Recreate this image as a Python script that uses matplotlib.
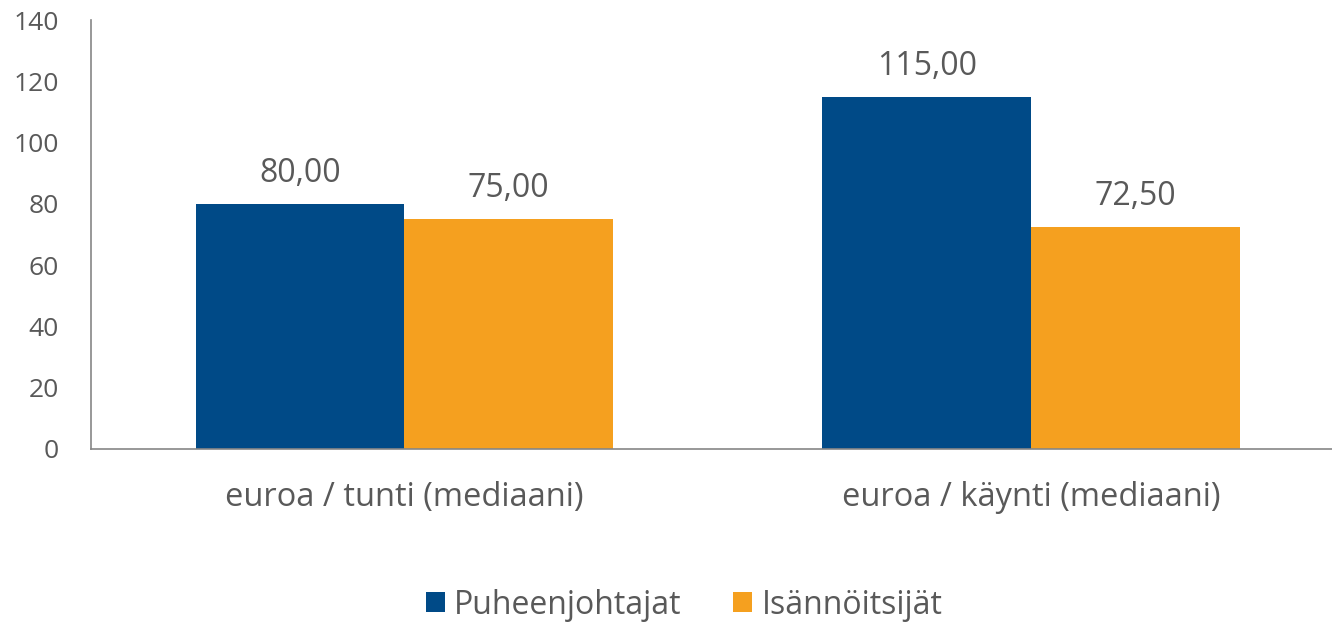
import matplotlib
matplotlib.use("Agg")
import matplotlib.pyplot as plt
import numpy as np

# data
categories = ["euroa / tunti (mediaani)", "euroa / käynti (mediaani)"]
series_names = ["Puheenjohtajat", "Isännöitsijät"]
puheenjohtajat = [80.00, 115.00]
isannoitsijat = [75.00, 72.50]
y_ticks = [0, 20, 40, 60, 80, 100, 120, 140]

colors = ["#004A87", "#F5A01F"]
text_color = "#595959"

plt.rcParams["font.family"] = ["Open Sans", "DejaVu Sans"]

fig = plt.figure(figsize=(13.32, 6.24), dpi=100)
ax = fig.add_axes([91 / 1332, 175 / 624, 1241 / 1332, 429 / 624])

x = np.arange(len(categories))
w = 0.333
b1 = ax.bar(x - w / 2, puheenjohtajat, w, color=colors[0], label=series_names[0])
b2 = ax.bar(x + w / 2, isannoitsijat, w, color=colors[1], label=series_names[1])

# value labels above bars, finnish decimal comma
for bars in (b1, b2):
    for rect in bars:
        val = rect.get_height()
        ax.annotate(f"{val:.2f}".replace(".", ","),
                    (rect.get_x() + rect.get_width() / 2, val),
                    xytext=(0, 10), textcoords="offset points",
                    ha="center", va="bottom", fontsize=23, color=text_color)

ax.set_xlim(-0.5, 1.48)
ax.set_ylim(0, 140)
ax.set_yticks(y_ticks)
ax.set_xticks(x)
ax.set_xticklabels(categories)
ax.tick_params(axis="y", length=0, labelsize=19, labelcolor=text_color, pad=23)
ax.tick_params(axis="x", length=0, labelsize=23.5, labelcolor=text_color, pad=23)

for s in ("top", "right"):
    ax.spines[s].set_visible(False)
ax.spines["left"].set_color("#868686")
ax.spines["bottom"].set_color("#868686")
ax.spines["left"].set_linewidth(1.2)
ax.spines["bottom"].set_linewidth(1.2)

leg = fig.legend(handles=[b1, b2], labels=series_names, loc="center",
                 bbox_to_anchor=(684 / 1332, 1 - 605 / 624), ncol=2,
                 frameon=False, fontsize=23, handlelength=0.6, handleheight=0.6,
                 handletextpad=0.3, columnspacing=1.6)
for t in leg.get_texts():
    t.set_color(text_color)

fig.savefig("out.png", dpi=100)
